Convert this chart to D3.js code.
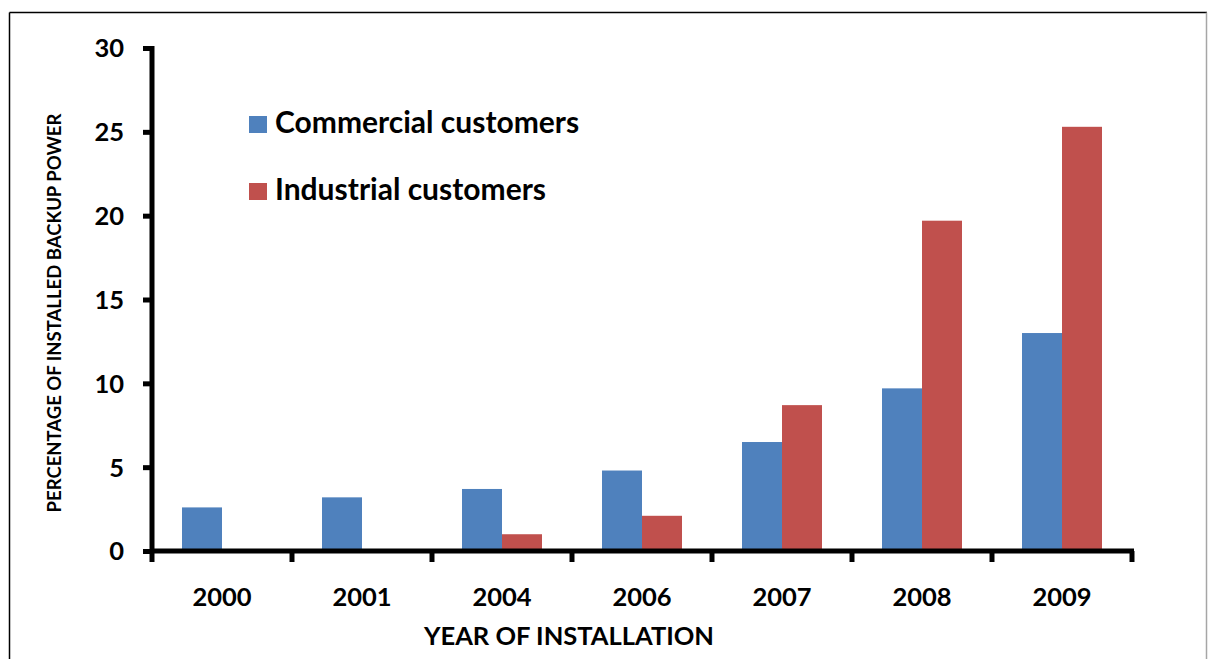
<!DOCTYPE html>
<html>
<head>
<meta charset="utf-8">
<script src="https://cdn.jsdelivr.net/npm/d3@7"></script>
<style>
  html, body { margin: 0; padding: 0; background: #fff; }
  svg { display: block; }
  text { font-family: Lato, "Open Sans", sans-serif; font-weight: bold; fill: #000; }
</style>
</head>
<body>
<svg id="chart" width="1208" height="659"></svg>
<script>
// Years of installation
const years = ["2000", "2001", "2004", "2006", "2007", "2008", "2009"];
// Share of installed backup power (%)
const commercial = [2.6, 3.2, 3.7, 4.8, 6.5, 9.7, 13.0];
const industrial = [0, 0, 1.0, 2.1, 8.7, 19.7, 25.3];
const seriesNames = ["Commercial customers", "Industrial customers"];
const seriesColors = ["#4F81BD", "#C0504D"];
const yTicks = [0, 5, 10, 15, 20, 25, 30];

const svg = d3.select("#chart");

// outer frame
svg.append("line").attr("x1", 9.5).attr("x2", 9.5).attr("y1", 12.5).attr("y2", 659)
  .attr("stroke", "#000").attr("stroke-width", 1.5);
svg.append("line").attr("x1", 9.5).attr("x2", 1207).attr("y1", 12.5).attr("y2", 12.5)
  .attr("stroke", "#000").attr("stroke-width", 1.5);
svg.append("line").attr("x1", 1206.5).attr("x2", 1206.5).attr("y1", 12.5).attr("y2", 659)
  .attr("stroke", "#a6a6a6").attr("stroke-width", 1.5);

const x = d3.scaleBand().domain(years).range([152, 1132]).padding(0);
const y = d3.scaleLinear().domain([0, 30]).range([551, 48]);

const bw = x.bandwidth();
const barW = bw * 0.2857;
const barOff = (bw - 2 * barW) / 2;

const rows = years.map((yr, i) => ({ yr, vals: [commercial[i], industrial[i]] }));

const groups = svg.append("g").selectAll("g").data(rows).join("g")
  .attr("transform", d => `translate(${x(d.yr) + barOff},0)`);

groups.selectAll("rect")
  .data(d => d.vals.map((v, k) => ({ v, k })))
  .join("rect")
  .attr("x", d => d.k * barW)
  .attr("width", barW)
  .attr("y", d => y(d.v))
  .attr("height", d => y(0) - y(d.v))
  .attr("fill", d => seriesColors[d.k]);

// y axis
const yAxis = svg.append("g").attr("transform", "translate(152,0)")
  .call(d3.axisLeft(y).tickValues(yTicks).tickSize(9).tickPadding(19).tickFormat(d3.format("d")));
yAxis.select(".domain").attr("stroke", "#000").attr("stroke-width", 5)
  .attr("d", `M0,${y(30) - 2}V${y(0) + 2}`);
yAxis.selectAll(".tick line").attr("stroke", "#000").attr("stroke-width", 5);
yAxis.selectAll(".tick text").style("font-size", "25.5px").attr("dy", "0.35em");

// x axis
const xAxis = svg.append("g").attr("transform", `translate(0,${y(0)})`)
  .call(d3.axisBottom(x).tickSize(0).tickPadding(37));
xAxis.select(".domain").attr("stroke", "#000").attr("stroke-width", 5)
  .attr("d", `M150,0H1134`);
xAxis.selectAll(".tick text").style("font-size", "25.5px");
// category separators
const edges = years.map(d => x(d)).concat([x.range()[1]]);
xAxis.selectAll(".sep").data(edges).join("line").attr("class", "sep")
  .attr("x1", d => d).attr("x2", d => d).attr("y1", 0).attr("y2", 11)
  .attr("stroke", "#000").attr("stroke-width", 5);

// axis titles
svg.append("text").attr("x", 569).attr("y", 645).attr("text-anchor", "middle")
  .style("font-size", "25.5px").text("YEAR OF INSTALLATION");
svg.append("text").attr("transform", "translate(61,313) rotate(-90)").attr("text-anchor", "middle")
  .style("font-size", "18.5px").text("PERCENTAGE OF INSTALLED BACKUP POWER");

// legend
const legend = svg.append("g").selectAll("g").data(seriesNames).join("g")
  .attr("transform", (d, i) => `translate(249,${116 + i * 67})`);
legend.append("rect").attr("width", 18).attr("height", 17).attr("fill", (d, i) => seriesColors[i]);
legend.append("text").attr("x", 26).attr("y", 17).style("font-size", "30px").text(d => d);
</script>
</body>
</html>
